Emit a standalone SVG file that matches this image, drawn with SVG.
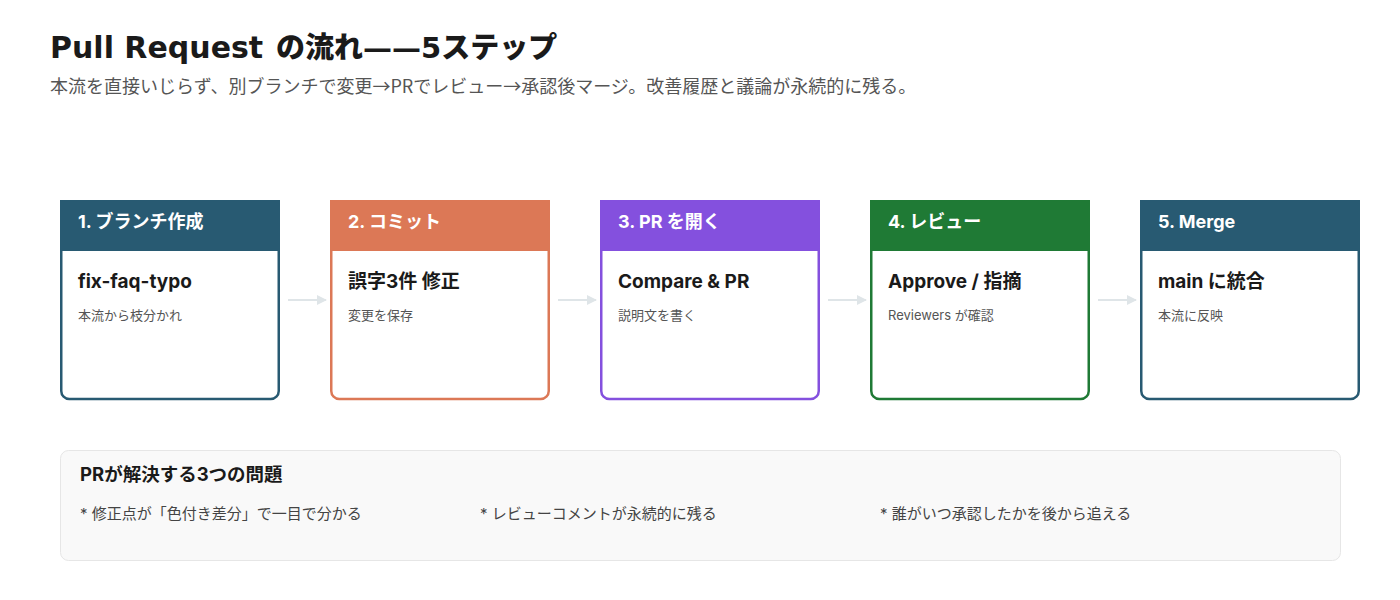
<svg xmlns="http://www.w3.org/2000/svg" width="1400" height="600" viewBox="0 0 1400 600">
<style>
text{font-family:Inter,"Noto Sans CJK JP",sans-serif}
.title{font-size:30px;font-weight:bold;fill:#1a1a1a;font-family:"DejaVu Sans","Noto Sans CJK JP",sans-serif}
.titlej{font-size:29px;font-weight:900;fill:#1a1a1a;font-family:"DejaVu Sans","Noto Sans CJK JP",sans-serif}
.sub{font-size:18px;fill:#555;font-family:"Noto Sans CJK JP",sans-serif}
.hd{font-size:18px;font-weight:bold;fill:#fff}
.nm{font-size:19px;font-weight:bold;fill:#1a1a1a}
.ds{font-size:13px;fill:#555}
.card{fill:#fff;stroke-width:2.5}
.bh{font-size:18.5px;font-weight:bold;fill:#1a1a1a}
.bi{font-size:15px;fill:#444}
.conn{stroke:#dfe5e8;stroke-width:2;fill:none}
</style>
<defs>
<marker id="ah" viewBox="0 0 10 10" refX="9" refY="5" markerWidth="5" markerHeight="5" orient="auto"><path d="M0,0L10,5L0,10z" fill="#dfe5e8"/></marker>
</defs>
<rect width="1400" height="600" fill="#fff"/>
<text class="title" x="50" y="58">Pull Request</text>
<text class="titlej" x="276" y="58">の流れ——5ステップ</text>
<text class="sub" x="50" y="93">本流を直接いじらず、別ブランチで変更→PRでレビュー→承認後マージ。改善履歴と議論が永続的に残る。</text>
<g id="connectors">
<line class="conn" x1="288" y1="300" x2="326" y2="300" marker-end="url(#ah)"/>
<line class="conn" x1="558" y1="300" x2="596" y2="300" marker-end="url(#ah)"/>
<line class="conn" x1="828" y1="300" x2="866" y2="300" marker-end="url(#ah)"/>
<line class="conn" x1="1098" y1="300" x2="1136" y2="300" marker-end="url(#ah)"/>
</g>
<g id="step1">
<path class="card" stroke="#285a72" d="M61.25,201.25H278.75V391a8,8 0 0 1 -8,8H69.25a8,8 0 0 1 -8,-8Z"/>
<rect x="60" y="200" width="220" height="51" fill="#285a72"/>
<text class="hd" x="78" y="228">1. ブランチ作成</text>
<text class="nm" x="78" y="288">fix-faq-typo</text>
<text class="ds" x="78" y="320">本流から枝分かれ</text>
</g>
<g id="step2">
<path class="card" stroke="#dc7856" d="M331.25,201.25H548.75V391a8,8 0 0 1 -8,8H339.25a8,8 0 0 1 -8,-8Z"/>
<rect x="330" y="200" width="220" height="51" fill="#dc7856"/>
<text class="hd" x="348" y="228">2. コミット</text>
<text class="nm" x="348" y="288">誤字3件 修正</text>
<text class="ds" x="348" y="320">変更を保存</text>
</g>
<g id="step3">
<path class="card" stroke="#8450de" d="M601.25,201.25H818.75V391a8,8 0 0 1 -8,8H609.25a8,8 0 0 1 -8,-8Z"/>
<rect x="600" y="200" width="220" height="51" fill="#8450de"/>
<text class="hd" x="618" y="228">3. PR を開く</text>
<text class="nm" x="618" y="288">Compare &amp; PR</text>
<text class="ds" x="618" y="320">説明文を書く</text>
</g>
<g id="step4">
<path class="card" stroke="#1f7a35" d="M871.25,201.25H1088.75V391a8,8 0 0 1 -8,8H879.25a8,8 0 0 1 -8,-8Z"/>
<rect x="870" y="200" width="220" height="51" fill="#1f7a35"/>
<text class="hd" x="888" y="228">4. レビュー</text>
<text class="nm" x="888" y="288">Approve / 指摘</text>
<text class="ds" x="888" y="320">Reviewers が確認</text>
</g>
<g id="step5">
<path class="card" stroke="#285a72" d="M1141.25,201.25H1358.75V391a8,8 0 0 1 -8,8H1149.25a8,8 0 0 1 -8,-8Z"/>
<rect x="1140" y="200" width="220" height="51" fill="#285a72"/>
<text class="hd" x="1158" y="228">5. Merge</text>
<text class="nm" x="1158" y="288">main に統合</text>
<text class="ds" x="1158" y="320">本流に反映</text>
</g>
<g id="problems">
<rect x="60.5" y="450.5" width="1280" height="110" rx="8" fill="#f9f9f9" stroke="#e6e6e6"/>
<text class="bh" x="80" y="481">PRが解決する3つの問題</text>
<text class="bi" x="80" y="519">* 修正点が「色付き差分」で一目で分かる</text>
<text class="bi" x="480" y="519">* レビューコメントが永続的に残る</text>
<text class="bi" x="880" y="519">* 誰がいつ承認したかを後から追える</text>
</g>
</svg>
